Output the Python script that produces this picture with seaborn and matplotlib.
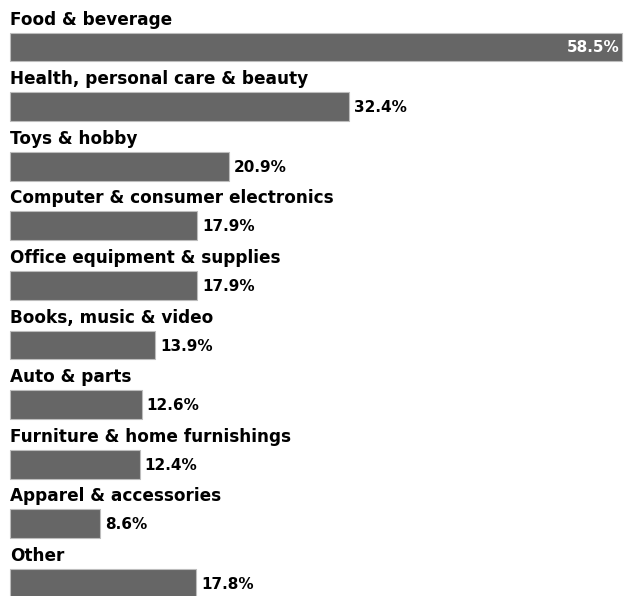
import matplotlib
matplotlib.use("Agg")
import matplotlib.pyplot as plt
import seaborn as sns
import pandas as pd

categories = ["Food & beverage", "Health, personal care & beauty", "Toys & hobby",
              "Computer & consumer electronics", "Office equipment & supplies",
              "Books, music & video", "Auto & parts", "Furniture & home furnishings",
              "Apparel & accessories", "Other"]
values = [58.5, 32.4, 20.9, 17.9, 17.9, 13.9, 12.6, 12.4, 8.6, 17.8]

df = pd.DataFrame({"category": categories, "value": values})

sns.set_theme(style="white")
plt.rcParams['font.family'] = ['DejaVu Sans']

W, H = 626, 596
fig = plt.figure(figsize=(W / 100, H / 100), dpi=100)
ax = fig.add_axes([0, 0, 1, 1])

bar_h = 0.48
sns.barplot(data=df, y="category", x="value", orient="h", color="#666666",
            saturation=1, width=bar_h, edgecolor="#bdbdbd", linewidth=0.8, ax=ax)

k = 612 / 58.5  # px per unit
ax.set_xlim(-10 / k, (W - 10) / k)
step = 59.6
ax.set_ylim((H - 47) / step, -47 / step)
ax.axis("off")

for i, (c, v) in enumerate(zip(categories, values)):
    ax.text(0, i - bar_h / 2 - 0.07, c, ha="left", va="bottom",
            fontsize=12.2, fontweight="heavy", color="black")
    label = f"{v:.1f}%"
    if i == 0:
        ax.text(v - 0.25, i, label, ha="right", va="center", fontsize=11,
                fontweight="heavy", color="white")
    else:
        ax.text(v + 0.45, i + 0.02, label, ha="left", va="center", fontsize=11,
                fontweight="heavy", color="black")

fig.savefig("out.png", dpi=100)
